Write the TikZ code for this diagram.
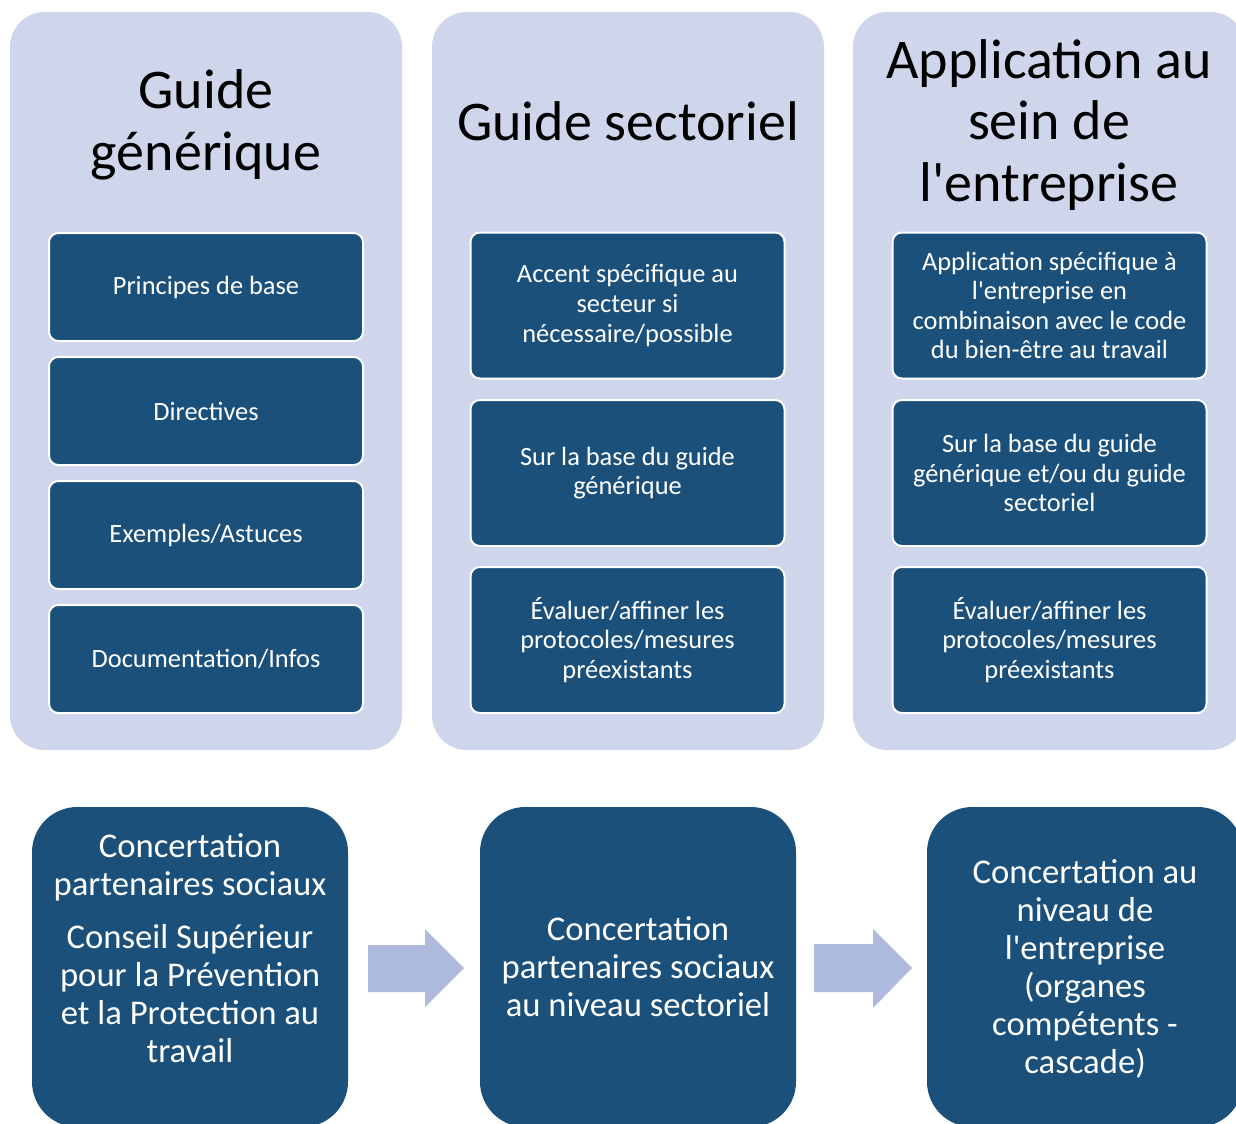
\documentclass[tikz,border=0pt]{standalone}
\usepackage{fontspec}
\setmainfont{Carlito}[Ligatures=TeXOff]
\definecolor{panelbg}{RGB}{207,213,234}
\definecolor{boxblue}{RGB}{26,80,122}
\definecolor{arrowblue}{RGB}{175,187,222}
\begin{document}
\begin{tikzpicture}[x=0.75pt,y=-0.75pt,
  panel/.style={fill=panelbg, draw=none, rounded corners=26pt, minimum width=294pt, minimum height=553.5pt, inner sep=0pt},
  paneltitle/.style={align=center, text=black, font=\fontsize{42}{46}\selectfont, inner sep=0pt},
  innerbox/.style={fill=boxblue, draw=white, line width=1.5pt, rounded corners=7pt, minimum width=235.5pt, text=white, align=center, font=\fontsize{19.8}{22.2}\selectfont, inner sep=0pt},
  shortbox/.style={innerbox, minimum height=81pt},
  tallbox/.style={innerbox, minimum height=109.5pt},
  bottombox/.style={fill=boxblue, draw=none, rounded corners=34pt, minimum width=237pt, minimum height=240pt, inner sep=0pt},
  bottomtext/.style={text=white, align=center, font=\fontsize{26}{28.5}\selectfont, inner sep=0pt},
  blockarrow/.style={fill=arrowblue, draw=none}
]
\useasboundingbox (0,0) rectangle (1236,1124);

% panels
\node[panel] (p1) at (206,381) {};
\node[panel] (p2) at (628,381) {};
\node[panel] (p3) at (1049,381) {};

% titles
\node[paneltitle] (t1) at (206,125) {Guide\\générique};
\node[paneltitle] (t2) at (628,121) {Guide sectoriel};
\node[paneltitle] (t3) at (1049,125) {Application au\\sein de\\l'entreprise};

% panel 1 boxes
\node[shortbox] (a1) at (206,287) {Principes de base};
\node[shortbox] (a2) at (206,411) {Directives};
\node[shortbox] (a3) at (206,535) {Exemples/Astuces};
\node[shortbox] (a4) at (206,659) {Documentation/Infos};

% panel 2 boxes
\node[tallbox] (b1) at (627.5,305.5) {Accent spécifique au\\secteur si\\nécessaire/possible};
\node[tallbox] (b2) at (627.5,473) {Sur la base du guide\\générique};
\node[tallbox] (b3) at (627.5,640) {Évaluer/affiner les\\protocoles/mesures\\préexistants};

% panel 3 boxes
\node[tallbox] (c1) at (1049.5,305.5) {Application spécifique à\\l'entreprise en\\combinaison avec le code\\du bien-être au travail};
\node[tallbox] (c2) at (1049.5,473) {Sur la base du guide\\générique et/ou du guide\\sectoriel};
\node[tallbox] (c3) at (1049.5,640) {Évaluer/affiner les\\protocoles/mesures\\préexistants};

% bottom boxes
\node[bottombox] (d1) at (190,967) {};
\node[bottombox] (d2) at (638,967) {};
\node[bottombox] (d3) at (1085,967) {};

\node[bottomtext] (d1t) at (190,948) {Concertation\\partenaires sociaux\\[11pt]Conseil Supérieur\\pour la Prévention\\et la Protection au\\travail};
\node[bottomtext] (d2t) at (638,967) {Concertation\\partenaires sociaux\\au niveau sectoriel};
\node[bottomtext] (d3t) at (1085,969) {Concertation au\\niveau de\\l'entreprise\\(organes\\compétents -\\cascade)};

% block arrows
\fill[blockarrow] (368,945) -- (425,945) -- (425,929) -- (464,968) -- (425,1007) -- (425,992) -- (368,992) -- cycle;
\fill[blockarrow] (814,944) -- (873,944) -- (873,929) -- (912,968) -- (873,1008) -- (873,992) -- (814,992) -- cycle;
\end{tikzpicture}
\end{document}
